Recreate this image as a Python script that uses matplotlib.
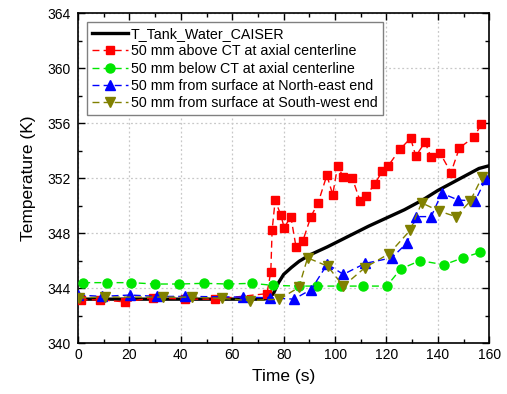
import matplotlib
matplotlib.use("Agg")
import matplotlib.pyplot as plt
from matplotlib.ticker import MultipleLocator

plt.rcParams["font.family"] = ["Liberation Sans", "DejaVu Sans"]

# T_Tank_Water_CAISER (simulation)
caiser_t = [0, 72, 74, 76, 78, 80, 83, 86, 90, 97, 105, 113, 120, 127, 134, 140, 146, 152, 156, 160]
caiser_T = [343.2, 343.2, 343.25, 343.6, 344.4, 345.0, 345.5, 345.95, 346.4, 347.0, 347.75, 348.5,
            349.1, 349.7, 350.4, 351.1, 351.7, 352.3, 352.7, 352.9]

# 50 mm above CT at axial centerline
above_t = [1, 8.6, 18.3, 29.3, 41.6, 53.3, 73.5, 75, 75.5, 76.7, 78.9, 80.2, 82.8, 84.8, 87.4,
           90.6, 93.4, 96.8, 99.1, 101, 103.1, 106.7, 109.8, 112.1, 115.5, 118.4, 120.7, 125.3,
           129.4, 131.4, 135, 137.4, 140.9, 145.1, 148.4, 154.2, 156.8]
above_T = [343.15, 343.15, 343.0, 343.3, 343.2, 343.2, 343.6, 345.2, 348.2, 350.4, 349.3, 348.4,
           349.2, 347.0, 347.4, 349.2, 350.2, 352.2, 350.8, 352.9, 352.1, 352.0, 350.3, 350.7,
           351.6, 352.5, 352.9, 354.1, 354.9, 353.6, 354.6, 353.5, 353.8, 352.4, 354.2, 355.0, 355.9]

# 50 mm below CT at axial centerline
below_t = [2, 11.4, 20.6, 30, 39.3, 49, 58.4, 67.6, 76, 86.1, 93.1, 102.3, 110.8, 120.1, 125.6,
           133.1, 142.4, 149.7, 156.4]
below_T = [344.4, 344.4, 344.4, 344.3, 344.3, 344.35, 344.3, 344.35, 344.2, 344.15, 344.15,
           344.15, 344.15, 344.15, 345.4, 346.0, 345.7, 346.2, 346.6]

# 50 mm from surface at North-east end
ne_t = [0.1, 9.2, 20.2, 30.9, 41.6, 64.3, 74.7, 84, 90.7, 97, 103.2, 111.7, 122, 128.1, 131.4,
        137.4, 141.5, 148, 154.5, 158.6]
ne_T = [343.5, 343.4, 343.5, 343.4, 343.4, 343.35, 343.3, 343.2, 343.9, 345.75, 345.0, 345.8,
        346.2, 347.3, 349.2, 349.2, 350.9, 350.4, 350.35, 351.9]

# 50 mm from surface at South-west end
sw_t = [0.5, 10.5, 33, 44.2, 55.9, 66.9, 78.3, 85.9, 89.3, 97.1, 103.2, 111.7, 121, 129.2, 133.7,
        140.5, 147, 152.5, 157.3]
sw_T = [343.3, 343.35, 343.35, 343.35, 343.25, 343.1, 343.2, 344.05, 346.2, 345.6, 344.15, 345.5,
        346.5, 348.2, 350.2, 349.6, 349.2, 350.3, 352.1]

fig = plt.figure(figsize=(5.07, 3.94), dpi=100)
ax = fig.add_axes([0.154, 0.129, 0.811, 0.838])

dash = (5, 3)
ax.plot(caiser_t, caiser_T, color="black", lw=2.4, label="T_Tank_Water_CAISER", zorder=3)
ax.plot(above_t, above_T, color="#ff0000", lw=1.0, dashes=dash, marker="s", ms=5.5,
        mec="#ff0000", label="50 mm above CT at axial centerline", zorder=4)
ax.plot(below_t, below_T, color="#00e600", lw=1.0, dashes=dash, marker="o", ms=6.5,
        mec="#00e600", label="50 mm below CT at axial centerline", zorder=4)
ax.plot(ne_t, ne_T, color="#0000ff", lw=1.0, dashes=dash, marker="^", ms=6.5,
        mec="#0000ff", label="50 mm from surface at North-east end", zorder=4)
ax.plot(sw_t, sw_T, color="#808000", lw=1.0, dashes=dash, marker="v", ms=6.5,
        mec="#808000", label="50 mm from surface at South-west end", zorder=4)

ax.set_xlim(0, 160)
ax.set_ylim(340, 364)
ax.xaxis.set_major_locator(MultipleLocator(20))
ax.xaxis.set_minor_locator(MultipleLocator(10))
ax.yaxis.set_major_locator(MultipleLocator(4))
ax.yaxis.set_minor_locator(MultipleLocator(2))
ax.tick_params(which="both", direction="in", top=True, right=True, labelsize=10, width=1)
ax.tick_params(which="major", length=5)
ax.tick_params(which="minor", length=3)
ax.tick_params(axis="y", pad=5.5)
ax.tick_params(axis="x", pad=3.5)
ax.grid(True, which="major", color="#c8c8c8", ls=(0, (1.5, 2)), lw=0.9)
ax.set_axisbelow(True)
for s in ax.spines.values():
    s.set_linewidth(1.2)

ax.set_xlabel("Time (s)", fontsize=12.5, labelpad=5)
ax.set_ylabel("Temperature (K)", fontsize=12.5, labelpad=8)

leg = ax.legend(loc="upper left", fontsize=10.3, frameon=True, fancybox=False, framealpha=1,
                edgecolor="#808080", handlelength=2.5, handletextpad=0.2, labelspacing=0.22,
                borderaxespad=0.65, borderpad=0.35)
leg.get_frame().set_linewidth(1.0)

fig.savefig("out.png", dpi=100)
